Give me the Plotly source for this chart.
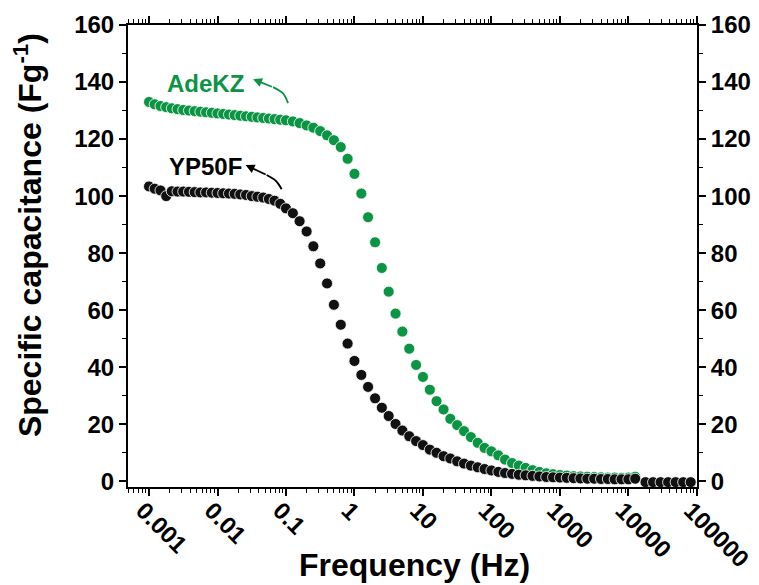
import math
import plotly.graph_objects as go

# frequency grid (Hz)
freq = [
    0.001, 0.00121, 0.00147, 0.00178, 0.00215, 0.00261, 0.00316, 0.00383, 0.00464, 0.00562, 0.00681, 0.00825,
    0.01, 0.0121, 0.0147, 0.0178, 0.0215, 0.0261, 0.0316, 0.0383, 0.0464, 0.0562, 0.0681, 0.0825,
    0.1, 0.126, 0.158, 0.2, 0.251, 0.316, 0.398, 0.501, 0.631, 0.794,
    1, 1.26, 1.58, 2.0, 2.51, 3.16, 3.98, 5.01, 6.31, 7.94,
    10, 12.6, 15.8, 20, 25.1, 31.6, 39.8, 50.1, 63.1, 79.4,
    100, 126, 158, 200, 251, 316, 398, 501, 631, 794,
    1000, 1259, 1585, 1995, 2512, 3162, 3981, 5012, 6310, 7943,
    10000, 12589,
    17783, 22909, 29512, 38019, 48978, 63096, 81283,
]

adekz = [
    133.0, 132.2, 131.6, 131.2, 130.8, 130.5, 130.2, 130.0, 129.8, 129.6, 129.4, 129.2,
    129.0, 128.8, 128.6, 128.4, 128.2, 128.0, 127.8, 127.6, 127.4, 127.2, 127.0, 126.8,
    126.6, 126.2, 125.6, 124.8, 124.0, 122.8, 121.3, 119.6, 117.2, 113.1,
    107.8, 100.9, 92.6, 83.8, 74.8, 66.5, 58.8, 52.5, 46.5, 40.8,
    36.6, 32.1, 28.1, 25.2, 21.9, 19.7, 17.6, 15.5, 13.5, 11.7,
    10.5, 9.1, 7.6, 6.4, 5.5, 4.7, 3.9, 3.3, 2.8, 2.5,
    2.2, 2.0, 1.8, 1.7, 1.6, 1.5, 1.4, 1.3, 1.3, 1.2,
    1.3, 1.6,
    -0.6, -0.6, -0.6, -0.6, -0.6, -0.6, -0.6,
]

yp50f = [
    103.4, 102.6, 102.0, 100.0, 101.7, 101.6, 101.6, 101.5, 101.4, 101.3, 101.3, 101.2,
    101.1, 101.0, 100.9, 100.8, 100.6, 100.4, 100.0, 99.8, 99.5, 99.0, 98.4, 97.3,
    95.7, 94.0, 91.2, 87.6, 82.4, 76.4, 69.4, 61.9, 54.9, 48.3,
    42.2, 37.3, 33.1, 29.1, 25.8, 22.9, 20.1, 17.8, 15.8, 14.1,
    12.7, 11.1, 10.0, 8.8, 8.0, 7.0, 6.2, 5.5, 4.9, 4.3,
    3.8, 3.3, 2.9, 2.6, 2.3, 2.1, 1.9, 1.7, 1.5, 1.4,
    1.3, 1.2, 1.1, 1.0, 0.9, 0.9, 0.8, 0.8, 0.7, 0.7,
    0.7, 0.9,
    -0.3, -0.3, -0.3, -0.3, -0.3, -0.3, -0.3,
]

x_ticks = [0.001, 0.01, 0.1, 1, 10, 100, 1000, 10000, 100000]
x_labels = ["0.001", "0.01", "0.1", "1", "10", "100", "1000", "10000", "100000"]
y_ticks = [0, 20, 40, 60, 80, 100, 120, 140, 160]
y_minor = [10, 30, 50, 70, 90, 110, 130, 150]

# curved label arrows: (frequency, capacitance) of the curved part, then the arrowhead tip
adekz_arrow_f = [0.107, 0.0904, 0.0646]
adekz_arrow_c = [132.6, 136.0, 138.2]
adekz_arrow_tip = (0.033, 141.0)
yp50f_arrow_f = [0.0865, 0.0714, 0.0522]
yp50f_arrow_c = [102.4, 105.3, 107.4]
yp50f_arrow_tip = (0.0257, 110.9)

GREEN = "#0b9444"
FONT = "Liberation Sans"

fig = go.Figure()

fig.add_trace(go.Scatter(
    x=freq, y=adekz, mode="markers", name="AdeKZ",
    marker=dict(size=11, color=GREEN, line=dict(color="white", width=0.8)),
))
fig.add_trace(go.Scatter(
    x=freq, y=yp50f, mode="markers", name="YP50F",
    marker=dict(size=11, color="#111111", line=dict(color="white", width=0.8)),
))
for fx, cy, col in [(adekz_arrow_f, adekz_arrow_c, GREEN), (yp50f_arrow_f, yp50f_arrow_c, "black")]:
    fig.add_trace(go.Scatter(x=fx, y=cy, mode="lines", line=dict(color=col, width=1.8, shape="spline"),
                             hoverinfo="skip", showlegend=False))
# invisible trace so the top / right axes are drawn
fig.add_trace(go.Scatter(x=[1], y=[0], xaxis="x2", yaxis="y2", mode="markers",
                         marker=dict(opacity=0), hoverinfo="skip", showlegend=False))

x_range = [-3.307, 5.002]
y_range = [-2, 160]

common_x = dict(type="log", range=x_range, showgrid=False, zeroline=False, automargin=False,
                showline=True, linecolor="black", linewidth=2,
                ticks="outside", ticklen=7, tickwidth=1.5, tickcolor="black",
                minor=dict(ticks="outside", ticklen=4, tickwidth=1.2, tickcolor="black", dtick="D1"))
common_y = dict(range=y_range, showgrid=False, zeroline=False, automargin=False,
                showline=True, linecolor="black", linewidth=2,
                ticks="outside", ticklen=7, tickwidth=1.5, tickcolor="black",
                tickvals=y_ticks,
                minor=dict(ticks="outside", ticklen=4, tickwidth=1.2, tickcolor="black",
                           tickvals=y_minor),
                tickfont=dict(size=24, family=FONT, weight="bold"))

# the page body adds an 8px offset, so the figure is 8px smaller than the window
fig.update_layout(
    width=751, height=577,
    paper_bgcolor="white", plot_bgcolor="white",
    margin=dict(l=120, r=62, t=17, b=98),
    showlegend=False,
    font=dict(family=FONT, color="black", weight="bold"),
    xaxis=dict(**common_x,
               tickvals=x_ticks, ticktext=x_labels, tickangle=45,
               ticklabeloverflow="allow", ticklabelstandoff=-9, ticklabelshift=-6,
               tickfont=dict(size=24, family=FONT, weight="bold")),
    xaxis2=dict(**common_x, overlaying="x", side="top", showticklabels=False,
                tickvals=x_ticks),
    yaxis=dict(**common_y),
    yaxis2=dict(**common_y, overlaying="y", side="right"),
)

# axis titles
fig.add_annotation(x=0.503, y=-0.169, xref="paper", yref="paper", text="Frequency (Hz)",
                   showarrow=False, xanchor="center", yanchor="middle",
                   font=dict(size=32, family=FONT, weight="bold"))
fig.add_annotation(x=-0.176, y=0.545, xref="paper", yref="paper",
                   text="Specific capacitance (Fg<sup>-1</sup>)", textangle=-90,
                   showarrow=False, xanchor="center", yanchor="middle",
                   font=dict(size=32, family=FONT, weight="bold"))

# series labels (annotation x in log10 units on the log axis)
fig.add_annotation(x=-2.17, y=139.5, text="AdeKZ", showarrow=False,
                   font=dict(size=24, color=GREEN, family=FONT, weight="bold"))
fig.add_annotation(x=-2.18, y=110.5, text="YP50F", showarrow=False,
                   font=dict(size=24, color="black", family=FONT, weight="bold"))

# arrowheads continuing the curved lines (tiny empty box so no gap at the tail)
for fx, cy, tip, col in [(adekz_arrow_f, adekz_arrow_c, adekz_arrow_tip, GREEN),
                         (yp50f_arrow_f, yp50f_arrow_c, yp50f_arrow_tip, "black")]:
    fig.add_annotation(x=math.log10(tip[0]), y=tip[1], ax=math.log10(fx[-1]), ay=cy[-1],
                       axref="x", ayref="y", text=" ", showarrow=True, arrowhead=2,
                       arrowsize=1, arrowwidth=1.8, arrowcolor=col,
                       font=dict(size=1), borderpad=0, width=1, height=1)

fig.write_html("out.html")
